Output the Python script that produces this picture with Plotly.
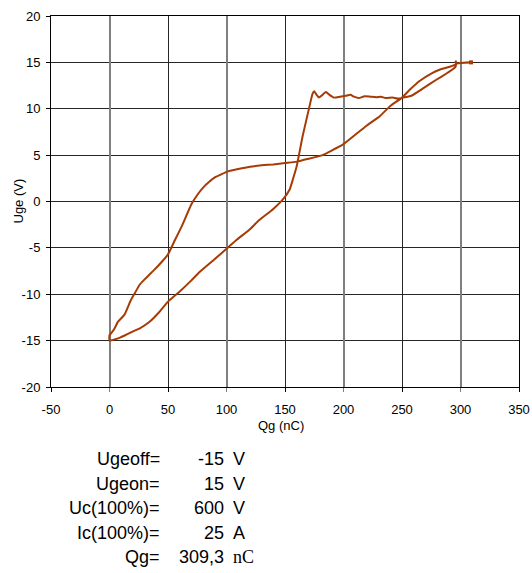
import plotly.graph_objects as go

# Turn-on branch (charging) : gate charge (nC) and gate voltage (V)
qg_on = [0, 5, 8.5, 13, 17, 20, 25.6, 34, 42, 50, 60, 70, 77, 90, 100, 109, 120, 128,
         140, 148, 154, 157, 160, 165, 171, 173.5, 175, 177, 179, 182, 185, 188, 192,
         197, 202, 206, 209, 213, 218, 223, 228, 232, 236, 242, 246, 251, 258, 268,
         279, 288, 294, 296, 296, 296, 302, 309]
uge_on = [-15.0, -14.85, -14.7, -14.45, -14.2, -14.0, -13.7, -13.0, -12.0, -10.8, -9.7,
          -8.5, -7.6, -6.2, -5.1, -4.1, -3.0, -2.0, -0.8, 0.2, 1.3, 2.5, 3.8, 7.0, 10.3,
          11.6, 11.9, 11.5, 11.2, 11.5, 11.8, 11.5, 11.2, 11.3, 11.4, 11.5, 11.3, 11.15,
          11.35, 11.3, 11.25, 11.3, 11.15, 11.2, 11.1, 11.2, 11.4, 12.2, 13.1, 13.8, 14.3,
          14.6, 15.2, 14.9, 14.95, 15.0]

# Turn-off branch (discharging)
qg_off = [309, 297, 296, 290, 282, 275, 265, 257, 250, 240, 231, 220, 210, 199, 190, 182,
          170, 160, 150, 140, 130, 120, 110, 100, 95, 90, 85, 80, 75, 70, 62, 55, 50, 44,
          38, 34, 30, 25.6, 22, 18, 12.8, 7, 4.3, 1.5, 0, 0]
uge_off = [15.0, 14.9, 14.75, 14.5, 14.2, 13.8, 13.0, 12.1, 11.2, 10.3, 9.2, 8.2, 7.2,
           6.1, 5.5, 5.0, 4.6, 4.3, 4.15, 4.0, 3.9, 3.75, 3.5, 3.2, 2.9, 2.6, 2.1, 1.5,
           0.7, -0.3, -2.6, -4.4, -5.7, -6.6, -7.4, -7.9, -8.4, -9.0, -9.8, -10.7, -12.2,
           -13.0, -13.7, -14.2, -14.4, -15.0]

x_ticks = [-50, 0, 50, 100, 150, 200, 250, 300, 350]
y_ticks = [-20, -15, -10, -5, 0, 5, 10, 15, 20]

info_labels = ["Ugeoff=", "Ugeon=", "Uc(100%)=", "Ic(100%)=", "Qg="]
info_values = ["-15", "15", "600", "25", "309,3"]
info_units = ["V", "V", "V", "A", "nC"]

LINE = "#A63B05"
GRID = "#262626"
FONT = "Liberation Sans, Arial, sans-serif"
x_range = [x_ticks[0], x_ticks[-1]]

fig = go.Figure()
# dummy (invisible) trace to activate the overlay x axis used for the grey grid lines
fig.add_trace(go.Scatter(x=[x_ticks[0]], y=[y_ticks[0]], mode="markers",
                         marker=dict(opacity=0), xaxis="x2", yaxis="y",
                         showlegend=False, hoverinfo="skip"))
fig.add_trace(go.Scatter(
    x=qg_on + qg_off, y=uge_on + uge_off, mode="lines",
    line=dict(color=LINE, width=2, shape="spline", smoothing=0.4),
    showlegend=False, hoverinfo="skip"))
fig.add_trace(go.Scatter(
    x=[qg_on[-1]], y=[uge_on[-1]], mode="markers",
    marker=dict(color=LINE, size=4, symbol="square"),
    showlegend=False, hoverinfo="skip"))

tickfont = dict(family=FONT, size=13, color="black")

fig.update_layout(
    width=532, height=573,
    margin=dict(l=51, r=13, t=16, b=186),
    paper_bgcolor="white", plot_bgcolor="white",
    font=dict(family=FONT, color="black"),
    xaxis=dict(range=x_range, tickvals=x_ticks, ticktext=[str(v) for v in x_ticks],
               showgrid=True, gridcolor=GRID, gridwidth=1, zeroline=False,
               showline=True, linecolor="black", linewidth=1, mirror=True,
               ticks="outside", ticklen=4, tickcolor="black", tickfont=tickfont,
               automargin=False, ticklabelstandoff=6),
    xaxis2=dict(range=x_range, overlaying="x", side="bottom", automargin=False,
                tickvals=x_ticks[1::2], showticklabels=False,
                showgrid=True, gridcolor="#7f7f7f", gridwidth=2,
                ticks="outside", ticklen=4, tickcolor="#7f7f7f", showline=False,
                zeroline=False),
    yaxis=dict(range=[y_ticks[0], y_ticks[-1]], tickvals=y_ticks,
               ticktext=[str(v) for v in y_ticks], automargin=False,
               showgrid=True, gridcolor=GRID, gridwidth=1, zeroline=False,
               showline=True, linecolor="black", linewidth=1, mirror=True,
               ticks="outside", ticklen=4, tickcolor="black", tickfont=tickfont,
               ticklabelstandoff=3),
)

# axis titles
fig.add_annotation(text="Uge (V)", xref="paper", yref="paper", x=(18 - 51) / 468, y=0.5,
                   textangle=-90, showarrow=False, xanchor="center", yanchor="middle",
                   font=dict(family=FONT, size=13, color="black"))
fig.add_annotation(text="Qg (nC)", xref="paper", yref="paper", x=(281 - 51) / 468,
                   y=(387 - 425) / 371, showarrow=False, xanchor="center",
                   yanchor="middle", font=dict(family=FONT, size=13, color="black"))

row_py = [459.5, 483.5, 508.3, 532.7, 557]
for i, (lab, val, unit) in enumerate(zip(info_labels, info_values, info_units)):
    yp = (387 - row_py[i]) / 371
    fig.add_annotation(text=lab, xref="paper", yref="paper", x=(162 - 51) / 468, y=yp,
                       xanchor="right", yanchor="middle", showarrow=False,
                       font=dict(family=FONT, size=18, color="black"))
    fig.add_annotation(text=val, xref="paper", yref="paper", x=(226 - 51) / 468, y=yp,
                       xanchor="right", yanchor="middle", showarrow=False,
                       font=dict(family=FONT, size=18, color="black"))
    ufont = "Liberation Serif, Times New Roman, serif" if unit == "nC" else FONT
    fig.add_annotation(text=unit, xref="paper", yref="paper", x=(231 - 51) / 468, y=yp,
                       xanchor="left", yanchor="middle", showarrow=False,
                       font=dict(family=ufont, size=18, color="black"))

fig.write_html("out.html", config={"displayModeBar": False},
               post_script="document.body.style.margin='0';"
                           "document.body.style.overflow='hidden';")
